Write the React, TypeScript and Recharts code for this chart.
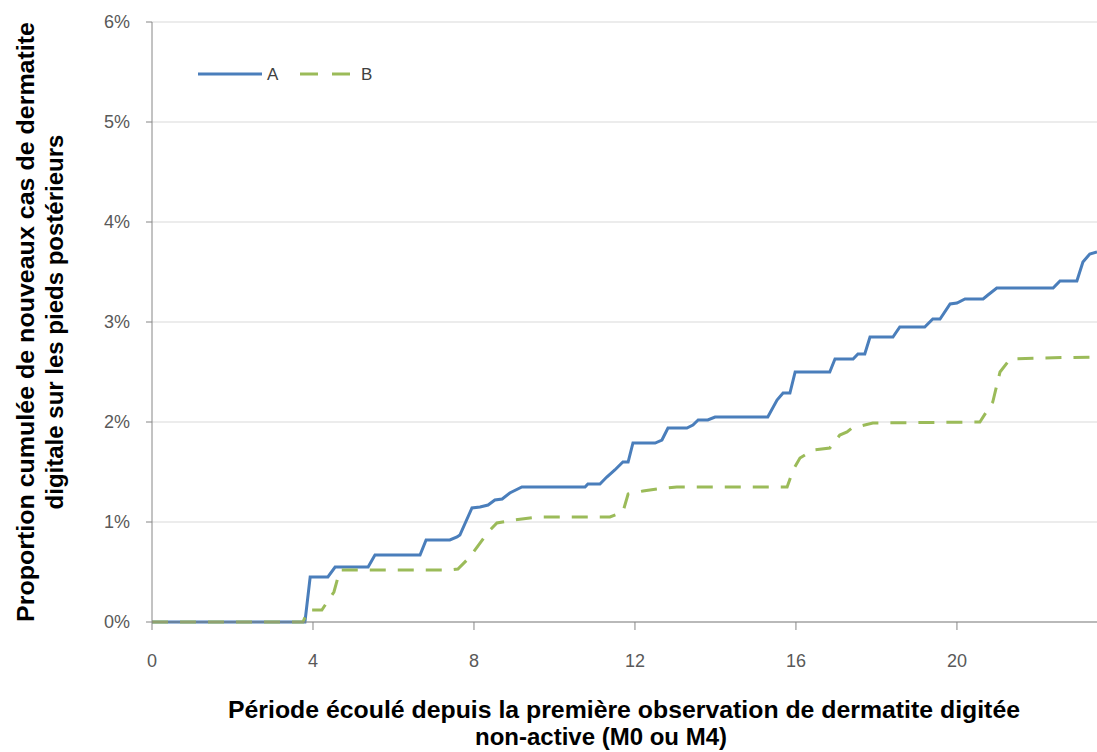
import { LineChart, Line, XAxis, YAxis, CartesianGrid } from 'recharts'

// durée (mois) et proportion cumulée (%)
const aX = [0, 3.8, 3.93, 4.37, 4.55, 5.37, 5.54, 6.66, 6.81, 7.4, 7.58, 7.65, 7.95, 8.15, 8.35, 8.52, 8.7, 8.89, 9.19, 10.76, 10.83, 11.13, 11.3, 11.5, 11.7, 11.83, 11.95, 12.5, 12.67, 12.82, 13.29, 13.44, 13.57, 13.81, 13.99, 15.3, 15.53, 15.68, 15.85, 15.98, 16.84, 16.97, 17.42, 17.54, 17.71, 17.84, 18.41, 18.58, 19.2, 19.4, 19.58, 19.83, 20.0, 20.2, 20.65, 20.77, 20.99, 22.39, 22.56, 22.98, 23.13, 23.3, 23.48]
const aY = [0, 0, 0.45, 0.45, 0.55, 0.55, 0.67, 0.67, 0.82, 0.82, 0.85, 0.87, 1.14, 1.15, 1.17, 1.22, 1.23, 1.29, 1.35, 1.35, 1.38, 1.38, 1.45, 1.52, 1.6, 1.6, 1.79, 1.79, 1.82, 1.94, 1.94, 1.97, 2.02, 2.02, 2.05, 2.05, 2.22, 2.29, 2.29, 2.5, 2.5, 2.63, 2.63, 2.68, 2.68, 2.85, 2.85, 2.95, 2.95, 3.03, 3.03, 3.18, 3.19, 3.23, 3.23, 3.27, 3.34, 3.34, 3.41, 3.41, 3.6, 3.68, 3.7]

const bX = [0, 3.75, 3.88, 4.22, 4.52, 4.67, 7.4, 7.6, 7.9, 8.35, 8.57, 8.97, 9.57, 11.38, 11.7, 11.83, 12.2, 12.55, 13.04, 15.78, 15.93, 16.1, 16.42, 16.84, 17.09, 17.27, 17.39, 17.91, 20.57, 20.89, 21.07, 21.32, 22.06, 23.48]
const bY = [0, 0, 0.12, 0.12, 0.3, 0.52, 0.52, 0.53, 0.65, 0.9, 0.99, 1.02, 1.05, 1.05, 1.1, 1.28, 1.31, 1.33, 1.35, 1.35, 1.52, 1.64, 1.72, 1.74, 1.87, 1.9, 1.94, 1.99, 2.0, 2.2, 2.5, 2.63, 2.64, 2.65]

const xTicks = [0, 4, 8, 12, 16, 20]
const yTicks = [0, 1, 2, 3, 4, 5, 6]

const dataA = aX.map((x, i) => ({ x, y: aY[i] }))
const dataB = bX.map((x, i) => ({ x, y: bY[i] }))

const BLUE = '#4a7ebb'
const GREEN = '#9bbb59'
const sans = "'Liberation Sans', Arial, sans-serif"
const tickStyle = { fontSize: 18, fill: '#595959', fontFamily: sans }

function YTitle() {
  return (
    <g fontFamily={sans} fontWeight="bold" fontSize={24} fill="#000">
      <text transform="rotate(-90)" x={-322} y={34} textAnchor="middle" textLength={600} lengthAdjust="spacingAndGlyphs">
        Proportion cumulée de nouveaux cas de dermatite
      </text>
      <text transform="rotate(-90)" x={-322} y={63} textAnchor="middle">
        digitale sur les pieds postérieurs
      </text>
    </g>
  )
}

// titre de l'axe X + légende dessinée dans la zone de tracé
function XTitle() {
  return (
    <g>
      <g fontFamily={sans} fontWeight="bold" fontSize={24} fill="#000">
        <text x={624} y={718} textAnchor="middle" textLength={792} lengthAdjust="spacingAndGlyphs">
          Période écoulé depuis la première observation de dermatite digitée
        </text>
        <text x={601} y={745} textAnchor="middle">
          non-active (M0 ou M4)
        </text>
      </g>
      <line x1={198} y1={74} x2={262} y2={74} stroke={BLUE} strokeWidth={3} />
      <text x={267} y={80} fontSize={17} fill="#404040" fontFamily={sans}>A</text>
      <line x1={300} y1={74} x2={352} y2={74} stroke={GREEN} strokeWidth={3} strokeDasharray="18 14" />
      <text x={361} y={80} fontSize={17} fill="#404040" fontFamily={sans}>B</text>
    </g>
  )
}

export default function App() {
  return (
    <div style={{ position: 'absolute', left: 0, top: 0, background: '#fff' }}>
      <LineChart width={1097} height={752} margin={{ top: 22, right: 0, bottom: 0, left: 0 }}>
        <CartesianGrid stroke="#d9d9d9" vertical={false} />
        <XAxis
          type="number"
          dataKey="x"
          domain={[0, 23.48]}
          ticks={xTicks}
          allowDataOverflow
          interval={0}
          tick={tickStyle}
          tickSize={8}
          tickMargin={24}
          stroke="#868686"
          height={130}
          label={{ content: () => <XTitle /> }}
        />
        <YAxis
          type="number"
          domain={[0, 6]}
          ticks={yTicks}
          interval={0}
          tickFormatter={(v) => `${v}%`}
          tick={tickStyle}
          tickSize={6}
          tickMargin={16}
          stroke="#868686"
          width={152}
          label={{ content: () => <YTitle /> }}
        />
        <Line
          data={dataA}
          dataKey="y"
          name="A"
          type="linear"
          stroke={BLUE}
          strokeWidth={3}
          dot={false}
          isAnimationActive={false}
        />
        <Line
          data={dataB}
          dataKey="y"
          name="B"
          type="linear"
          stroke={GREEN}
          strokeWidth={3}
          strokeDasharray="16 12"
          dot={false}
          isAnimationActive={false}
        />
      </LineChart>
    </div>
  )
}
